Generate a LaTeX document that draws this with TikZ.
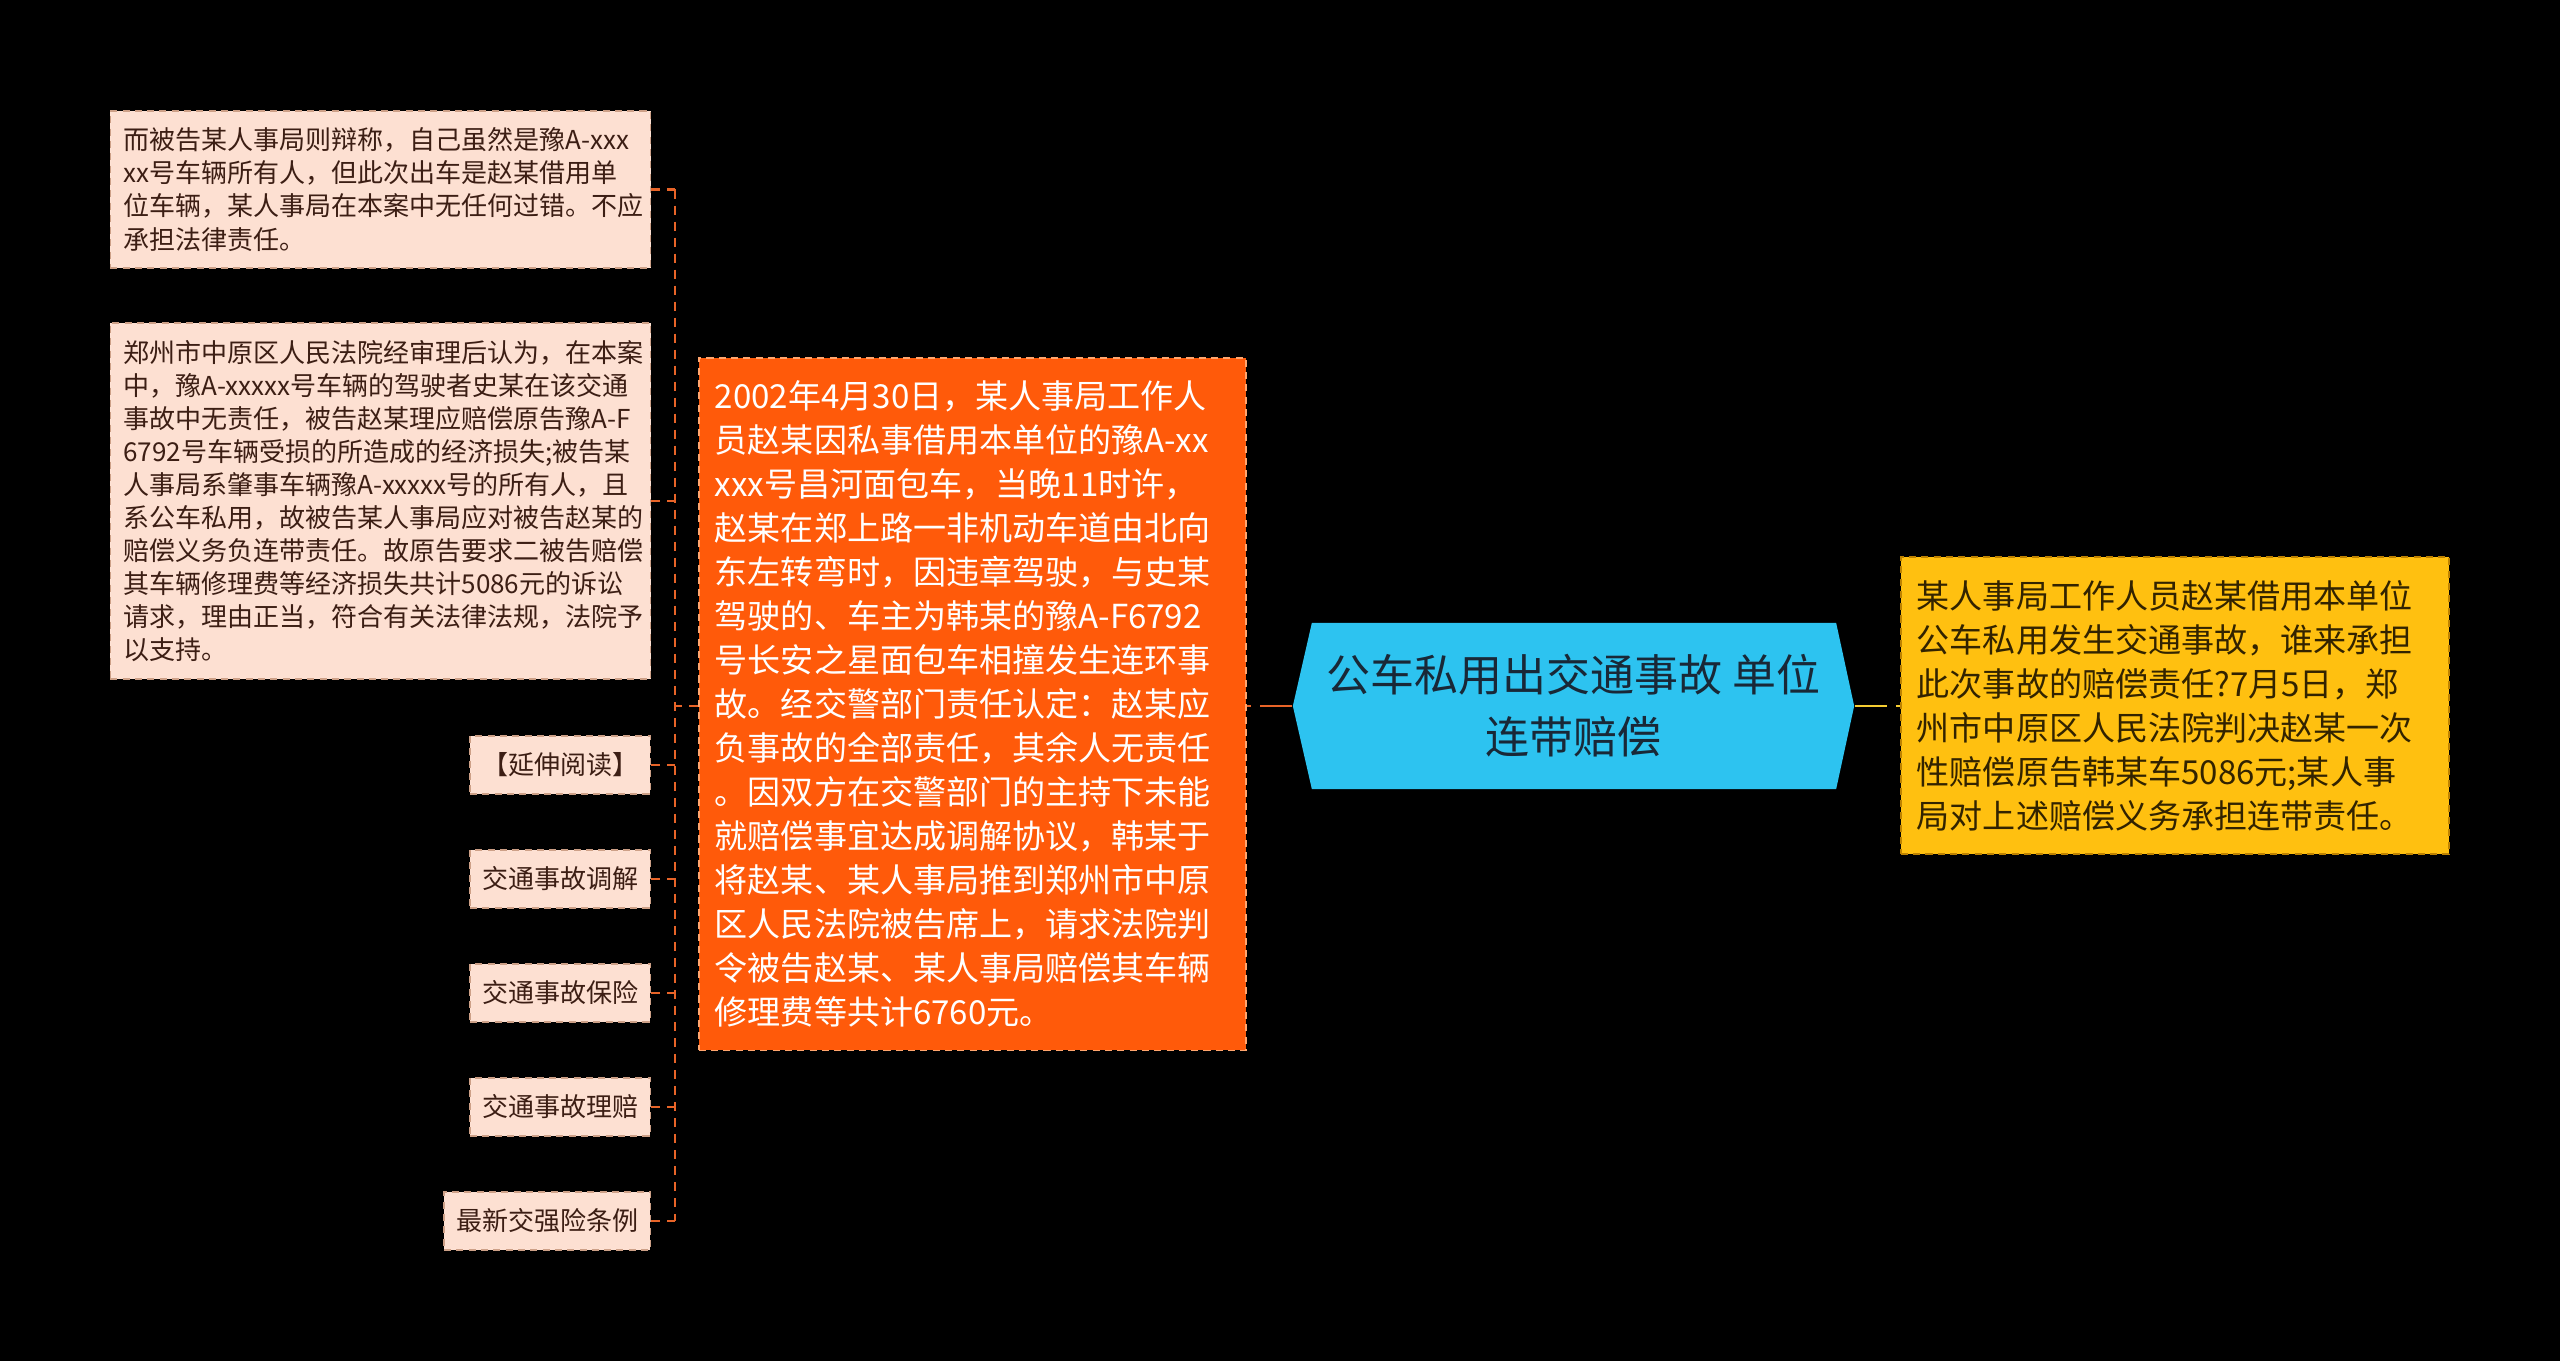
\documentclass[tikz,border=0pt]{standalone}
\usepackage{fontspec}
\setmainfont{Noto Sans CJK SC}
\usetikzlibrary{positioning, calc}

\definecolor{peach}{RGB}{253,224,210}
\definecolor{peachline}{RGB}{205,160,135}
\definecolor{leaftext}{RGB}{60,30,20}
\definecolor{origfill}{RGB}{255,90,10}
\definecolor{origline}{RGB}{255,165,110}
\definecolor{ansfill}{RGB}{255,192,16}
\definecolor{ansline}{RGB}{190,130,0}
\definecolor{anstext}{RGB}{50,35,0}
\definecolor{rootfill}{RGB}{45,195,240}
\definecolor{roottext}{RGB}{25,40,55}
\definecolor{linkorange}{RGB}{232,100,40}
\definecolor{linkyellow}{RGB}{245,205,50}

\begin{document}
\begin{tikzpicture}[
  x=0.01cm, y=-0.01cm,
  leaf/.style={draw=peachline, dash pattern=on 2pt off 1.5pt, fill=peach, text=leaftext,
    inner xsep=0.13cm, inner ysep=0pt, align=left, font=\fontsize{7.4}{9.4}\selectfont},
  bigbox/.style={dash pattern=on 2pt off 1.5pt, inner xsep=0.16cm, inner ysep=0pt,
    align=left, font=\fontsize{9.4}{12.5}\selectfont},
  rootbox/.style={fill=black, inner sep=0pt, minimum width=5.61cm, minimum height=1.66cm,
    align=center, text=roottext, font=\fontsize{12.5}{17.6}\selectfont,
    path picture={\fill[rootfill] ($(path picture bounding box.north west)+(19,0)$)
      -- ($(path picture bounding box.north east)+(-18,0)$) -- (path picture bounding box.east)
      -- ($(path picture bounding box.south east)+(-18,0)$)
      -- ($(path picture bounding box.south west)+(19,0)$) -- (path picture bounding box.west) -- cycle;}},
  mainlink/.style={line width=0.85pt, dash pattern=on 0.32cm off 0.09cm},
  sublink/.style={draw=linkorange, line width=0.6pt, dash pattern=on 0.09cm off 0.07cm}
]
\fill[black] (0,0) rectangle (2560,1361);

% centre
\node[rootbox] (root) at (1573.5,706) {公车私用出交通事故 单位\\连带赔偿};

% right branch
\node[bigbox, draw=ansline, fill=ansfill, text=anstext, minimum width=5.48cm,
  minimum height=2.97cm, text width=5.16cm] (answer) at (2175,705.5) {%
某人事局工作人员赵某借用本单位\\
公车私用发生交通事故，谁来承担\\
此次事故的赔偿责任?7月5日，郑\\
州市中原区人民法院判决赵某一次\\
性赔偿原告韩某车5086元;某人事\\
局对上述赔偿义务承担连带责任。};

% left branch
\node[bigbox, draw=origline, fill=origfill, text=white, minimum width=5.47cm,
  minimum height=6.92cm, text width=5.15cm] (orig) at (972.5,704) {%
2002年4月30日，某人事局工作人\\
员赵某因私事借用本单位的豫A-xx\\
xxx号昌河面包车，当晚11时许，\\
赵某在郑上路一非机动车道由北向\\
东左转弯时，因违章驾驶，与史某\\
驾驶的、车主为韩某的豫A-F6792\\
号长安之星面包车相撞发生连环事\\
故。经交警部门责任认定：赵某应\\
负事故的全部责任，其余人无责任\\
。因双方在交警部门的主持下未能\\
就赔偿事宜达成调解协议，韩某于\\
将赵某、某人事局推到郑州市中原\\
区人民法院被告席上，请求法院判\\
令被告赵某、某人事局赔偿其车辆\\
修理费等共计6760元。};

\node[leaf, minimum width=5.40cm, minimum height=1.57cm, text width=5.14cm] (a) at (380.5,189.5) {%
而被告某人事局则辩称，自己虽然是豫A-xxx\\
xx号车辆所有人，但此次出车是赵某借用单\\
位车辆，某人事局在本案中无任何过错。不应\\
承担法律责任。};

\node[leaf, minimum width=5.40cm, minimum height=3.56cm, text width=5.14cm] (b) at (380.5,501) {%
郑州市中原区人民法院经审理后认为，在本案\\
中，豫A-xxxxx号车辆的驾驶者史某在该交通\\
事故中无责任，被告赵某理应赔偿原告豫A-F\\
6792号车辆受损的所造成的经济损失;被告某\\
人事局系肇事车辆豫A-xxxxx号的所有人，且\\
系公车私用，故被告某人事局应对被告赵某的\\
赔偿义务负连带责任。故原告要求二被告赔偿\\
其车辆修理费等经济损失共计5086元的诉讼\\
请求，理由正当，符合有关法律法规，法院予\\
以支持。};

\foreach \n/\yy/\txt in {r1/765/【延伸阅读】, r2/879/交通事故调解, r3/993/交通事故保险,
  r4/1107/交通事故理赔, r5/1221/最新交强险条例} {
  \node[leaf, anchor=east, minimum height=0.58cm, inner xsep=0.12cm] (\n) at (651,\yy) {\txt};
}

% connectors
\draw[mainlink, linkorange] (root.west) -- (root.west -| orig.east);
\draw[mainlink, linkyellow] (root.east) -- (root.east -| answer.west);

\coordinate (spine) at (675,706);
\draw[sublink] (orig.west |- spine) -- (spine);
\draw[sublink] (a.east -| spine) -- (r5.east -| spine);
\foreach \n in {a,b,r1,r2,r3,r4,r5} {
  \draw[sublink] (\n.east) -- (\n.east -| spine);
}
\end{tikzpicture}
\end{document}
